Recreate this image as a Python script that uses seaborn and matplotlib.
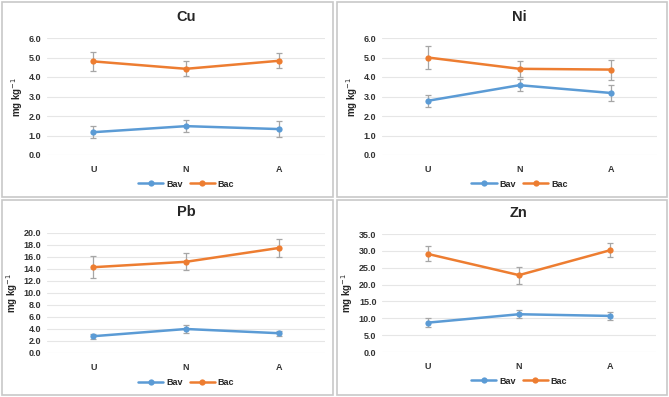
import matplotlib
matplotlib.use("Agg")
import matplotlib.pyplot as plt
import matplotlib.patches as mpatches
import numpy as np
import pandas as pd
import seaborn as sns

sitios = ["U", "N", "A"]
metales = ["Cu", "Ni", "Pb", "Zn"]

bav = {
    "Cu": [1.17, 1.48, 1.33],
    "Ni": [2.78, 3.58, 3.18],
    "Pb": [2.8, 4.0, 3.3],
    "Zn": [8.7, 11.2, 10.7],
}
bav_err = {
    "Cu": [0.31, 0.31, 0.40],
    "Ni": [0.30, 0.30, 0.40],
    "Pb": [0.40, 0.60, 0.40],
    "Zn": [1.3, 1.2, 1.3],
}
bac = {
    "Cu": [4.80, 4.42, 4.83],
    "Ni": [5.00, 4.42, 4.38],
    "Pb": [14.3, 15.2, 17.5],
    "Zn": [29.1, 22.8, 30.2],
}
bac_err = {
    "Cu": [0.49, 0.38, 0.39],
    "Ni": [0.60, 0.40, 0.51],
    "Pb": [1.8, 1.4, 1.5],
    "Zn": [2.2, 2.5, 2.0],
}
y_max = {"Cu": 6.0, "Ni": 6.0, "Pb": 20.0, "Zn": 35.0}
y_paso = {"Cu": 1.0, "Ni": 1.0, "Pb": 2.0, "Zn": 5.0}

azul = "#5B9BD5"
naranja = "#ED7D31"

sns.set_theme(style="white")
plt.rcParams["font.family"] = ["Liberation Sans", "DejaVu Sans"]

W, H = 669, 397
fig = plt.figure(figsize=(W / 100, H / 100), dpi=100)
fig.patch.set_facecolor("white")

# (panel left, top, right, bottom) y (axes left, top, right, bottom) en pixeles
paneles = {
    "Cu": ((2, 2, 333, 197), (47, 38, 325, 155)),
    "Ni": ((337, 2, 667, 197), (382, 38, 657, 155)),
    "Pb": ((2, 200, 333, 395), (47, 233, 325, 353)),
    "Zn": ((337, 200, 667, 395), (382, 234, 656, 352)),
}


def caja_fig(l, t, r, b):
    return [l / W, 1 - b / H, (r - l) / W, (b - t) / H]


for metal in metales:
    (pl, pt, pr, pb), (al, at, ar, ab) = paneles[metal]
    fig.patches.append(mpatches.Rectangle(
        (pl / W, 1 - pb / H), (pr - pl) / W, (pb - pt) / H,
        transform=fig.transFigure, fill=False, edgecolor="#C8C8C8", linewidth=1.2))

    ax = fig.add_axes(caja_fig(al, at, ar, ab))
    df = pd.DataFrame({
        "sitio": sitios * 2,
        "valor": bav[metal] + bac[metal],
        "serie": ["Bav"] * 3 + ["Bac"] * 3,
    })
    sns.lineplot(data=df, x="sitio", y="valor", hue="serie", sort=False,
                 palette={"Bav": azul, "Bac": naranja}, marker="o",
                 markersize=4.5, markeredgewidth=0, linewidth=1.8, ax=ax, zorder=3)
    x = np.arange(len(sitios))
    ax.errorbar(x, bav[metal], yerr=bav_err[metal], fmt="none", ecolor="#A6A6A6",
                elinewidth=0.9, capsize=2.5, capthick=0.9, zorder=2)
    ax.errorbar(x, bac[metal], yerr=bac_err[metal], fmt="none", ecolor="#A6A6A6",
                elinewidth=0.9, capsize=2.5, capthick=0.9, zorder=2)

    ax.set_xlim(-0.5, 2.5)
    ax.set_ylim(0, y_max[metal])
    ax.set_yticks(np.arange(0, y_max[metal] + 0.01, y_paso[metal]))
    ax.yaxis.set_major_formatter(matplotlib.ticker.FormatStrFormatter("%.1f"))
    ax.grid(axis="y", color="#E6E6E6", linewidth=0.8)
    for s in ax.spines.values():
        s.set_visible(False)
    ax.tick_params(axis="both", length=0, labelsize=6.5, pad=4, labelcolor="#333333")
    for lab in ax.get_xticklabels() + ax.get_yticklabels():
        lab.set_fontweight("bold")
    ax.tick_params(axis="x", pad=7)
    ax.set_xlabel("")
    ax.set_ylabel("mg kg$^{-1}$", fontsize=7, fontweight="bold", labelpad=3)
    ax.set_title(metal, fontsize=10.5, fontweight="bold", pad=12)

    handles, labels = ax.get_legend_handles_labels()
    ax.legend(handles, labels, loc="upper center", bbox_to_anchor=(0.5, -0.14),
              ncol=2, frameon=False, prop={"size": 6.5, "weight": "bold"},
              handlelength=2.8, columnspacing=0.8, handletextpad=0.3)

plt.savefig("out.png", dpi=100)
